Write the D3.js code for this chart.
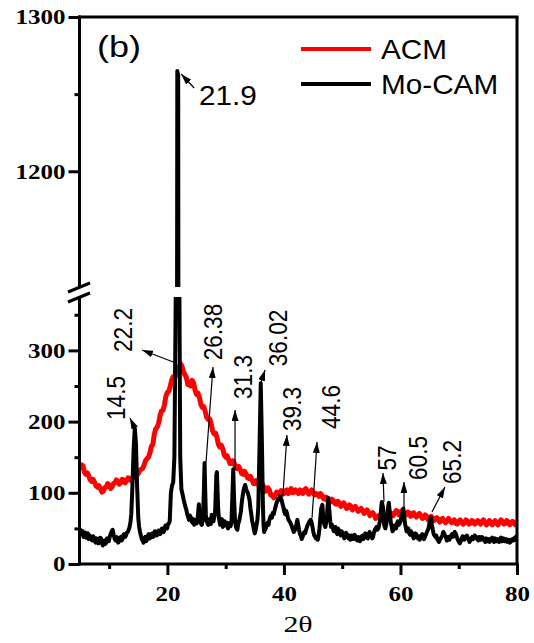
<!DOCTYPE html>
<html><head><meta charset="utf-8">
<script src="https://cdn.jsdelivr.net/npm/d3@7"></script>
<style>body{margin:0;background:#fff}svg{display:block}</style>
</head><body>
<svg id="c" width="534" height="643"></svg>
<script>
// ---------- data ----------
const seriesNames = ["ACM", "Mo-CAM"];
const seriesColors = ["#ff0000", "#000000"];
const acm = [[5,142],[5.25,136],[5.5,138],[5.75,129],[6,126],[6.25,128],[6.5,124],[6.75,118],[7,116],[7.25,119],[7.5,115],[7.75,110],[8,108],[8.25,110],[8.5,106],[8.75,101],[9,102],[9.25,107],[9.5,108],[9.75,113],[10,111],[10.25,106],[10.5,108],[10.75,113],[11,114],[11.25,118],[11.5,116],[11.75,112],[12,114],[12.25,119],[12.5,118],[12.75,114],[13,117],[13.25,121],[13.5,119],[13.75,117],[14,120],[14.25,126],[14.5,124],[14.75,124],[15,127],[15.25,131],[15.5,133],[15.75,134],[16,139],[16.25,145],[16.5,148],[16.75,150],[17,156],[17.25,165],[17.5,168],[17.75,182],[18,190],[18.25,192],[18.5,198],[18.75,209],[19,215],[19.25,216],[19.5,224],[19.75,236],[20,241],[20.25,243],[20.5,250],[20.75,259],[21,263],[21.25,261],[21.5,266],[21.75,274],[22,276],[22.25,281],[22.5,278],[22.75,270],[23,266],[23.25,262],[23.5,252],[23.75,255],[24,250],[24.25,258],[24.5,254],[24.75,244],[25,238],[25.25,240],[25.5,234],[25.75,224],[26,220],[26.25,221],[26.5,214],[26.75,206],[27,203],[27.25,204],[27.5,197],[27.75,187],[28,183],[28.25,184],[28.5,178],[28.75,168],[29,164],[29.25,167],[29.5,162],[29.75,153],[30,150],[30.25,152],[30.5,147],[30.75,141],[31,141],[31.25,145],[31.5,141],[31.75,135],[32,134],[32.25,137],[32.5,133],[32.75,127],[33,126],[33.25,130],[33.5,127],[33.75,121],[34,120],[34.25,123],[34.5,119],[34.75,113],[35,113],[35.25,117],[35.5,115],[35.75,109],[36,110],[36.25,113],[36.5,109],[36.75,102],[37,103],[37.25,107],[37.5,104],[37.75,97],[38,96],[38.25,93],[38.5,97],[38.75,101],[39,99],[39.25,100],[39.5,103],[39.75,98],[40,99],[40.25,103],[40.5,104],[40.75,99],[41,103],[41.25,106],[41.5,100],[41.75,101],[42,104],[42.25,101],[42.5,99],[42.75,104],[43,103],[43.25,99],[43.5,104],[43.75,106],[44,102],[44.25,98],[44.5,101],[44.75,104],[45,101],[45.25,97],[45.5,99],[45.75,98],[46,95],[46.25,99],[46.5,97],[46.75,92],[47,91],[47.25,94],[47.5,90],[47.75,86],[48,87],[48.25,91],[48.5,89],[48.75,85],[49,84],[49.25,88],[49.5,86],[49.75,81],[50,82],[50.25,86],[50.5,83],[50.75,78],[51,79],[51.25,83],[51.5,81],[51.75,76],[52,78],[52.25,81],[52.5,78],[52.75,74],[53,76],[53.25,78],[53.5,75],[53.75,71],[54,73],[54.25,76],[54.5,73],[54.75,68],[55,70],[55.25,72],[55.5,69],[55.75,64],[56,66],[56.25,68],[56.5,65],[56.75,62],[57,64],[57.25,68],[57.5,67],[57.75,64],[58,67],[58.25,72],[58.5,71],[58.75,68],[59,71],[59.25,75],[59.5,74],[59.75,69],[60,70],[60.25,75],[60.5,73],[60.75,68],[61,69],[61.25,73],[61.5,72],[61.75,67],[62,68],[62.25,72],[62.5,69],[62.75,66],[63,69],[63.25,71],[63.5,68],[63.75,64],[64,65],[64.25,69],[64.5,67],[64.75,62],[65,64],[65.25,67],[65.5,65],[65.75,61],[66,63],[66.25,65],[66.5,62],[66.75,59],[67,63],[67.25,64],[67.5,60],[67.75,58],[68,61],[68.25,64],[68.5,61],[68.75,58],[69,60],[69.25,62],[69.5,57],[69.75,56],[70,60],[70.25,62],[70.5,59],[70.75,56],[71,58],[71.25,62],[71.5,60],[71.75,56],[72,57],[72.25,61],[72.5,60],[72.75,56],[73,58],[73.25,61],[73.5,59],[73.75,56],[74,60],[74.25,62],[74.5,58],[74.75,55],[75,57],[75.25,61],[75.5,59],[75.75,55],[76,58],[76.25,61],[76.5,57],[76.75,55],[77,59],[77.25,62],[77.5,60],[77.75,56],[78,57],[78.25,61],[78.5,59],[78.75,55],[79,57],[79.25,60],[79.5,58],[79.75,55],[80,56]];
const mocam = [[5.0,50],[5.15,44],[5.3,42],[5.45,46],[5.6,38],[5.75,41],[5.9,44],[6.05,37],[6.2,40],[6.35,43],[6.5,35],[6.65,40],[6.8,39],[6.95,34],[7.1,33],[7.25,39],[7.4,37],[7.55,32],[7.7,30],[7.85,36],[8.0,35],[8.15,29],[8.3,31],[8.45,37],[8.6,36],[8.75,30],[8.9,26],[9.05,31],[9.2,33],[9.35,28],[9.5,30],[9.65,36],[9.8,35],[9.95,32],[10.1,38],[10.25,42],[10.4,45],[10.6,48],[10.8,40],[10.95,35],[11.1,33],[11.25,38],[11.4,36],[11.55,30],[11.7,32],[11.85,37],[12.0,38],[12.15,33],[12.3,35],[12.45,41],[12.6,42],[12.75,38],[12.9,40],[13.05,44],[13.2,45],[13.35,48],[13.5,52],[13.65,58],[13.8,70],[14.0,110],[14.2,160],[14.4,191],[14.6,170],[14.8,110],[15.0,65],[15.15,52],[15.3,45],[15.45,40],[15.6,35],[15.75,33],[15.9,30],[16.05,36],[16.2,38],[16.35,32],[16.5,34],[16.65,40],[16.8,42],[16.95,36],[17.1,37],[17.25,42],[17.4,43],[17.55,38],[17.7,40],[17.85,46],[18.0,45],[18.15,40],[18.3,41],[18.45,47],[18.6,47],[18.75,42],[18.9,44],[19.05,50],[19.2,50],[19.35,45],[19.5,48],[19.65,54],[19.8,53],[19.95,50],[20.1,56],[20.25,57],[20.4,60],[20.6,100],[20.8,110],[21.0,115],[21.2,150],[21.45,400],[21.7,1265],[21.85,1262],[22.05,400],[22.2,150],[22.4,105],[22.6,98],[22.8,90],[22.95,85],[23.1,80],[23.25,76],[23.4,70],[23.55,66],[23.7,62],[23.85,68],[24.0,66],[24.15,60],[24.3,58],[24.45,63],[24.6,55],[24.75,58],[24.9,62],[25.0,57],[25.1,58],[25.25,70],[25.4,84],[25.5,72],[25.6,60],[25.75,57],[25.9,55],[26.0,60],[26.1,65],[26.25,100],[26.38,142],[26.5,100],[26.6,70],[26.7,60],[26.85,58],[27.0,55],[27.15,63],[27.3,62],[27.45,56],[27.6,69],[27.75,64],[27.9,60],[28.05,66],[28.2,75],[28.4,125],[28.5,129],[28.7,80],[28.8,68],[28.9,62],[29.05,55],[29.2,58],[29.35,63],[29.5,52],[29.65,55],[29.8,60],[29.95,54],[30.1,55],[30.25,58],[30.4,50],[30.55,54],[30.7,57],[30.85,53],[31.0,60],[31.15,95],[31.3,133],[31.45,90],[31.6,62],[31.7,55],[31.85,50],[32.0,48],[32.15,56],[32.3,60],[32.45,66],[32.6,73],[32.75,85],[32.9,95],[33.05,103],[33.2,108],[33.35,111],[33.5,106],[33.65,102],[33.8,100],[33.95,95],[34.1,90],[34.25,78],[34.4,70],[34.55,60],[34.7,55],[34.85,48],[35.0,43],[35.15,48],[35.3,55],[35.45,62],[35.6,80],[35.85,180],[36.02,254],[36.2,180],[36.4,80],[36.5,55],[36.6,45],[36.75,48],[36.9,50],[37.05,56],[37.2,58],[37.35,55],[37.5,62],[37.65,66],[37.8,68],[37.95,65],[38.1,72],[38.25,70],[38.4,75],[38.55,80],[38.7,85],[38.85,88],[39.0,92],[39.15,90],[39.3,95],[39.45,93],[39.6,90],[39.75,84],[39.9,80],[40.05,74],[40.2,70],[40.35,75],[40.5,72],[40.65,66],[40.8,62],[40.95,60],[41.1,58],[41.25,55],[41.4,52],[41.55,48],[41.7,45],[41.85,47],[42.0,50],[42.15,56],[42.3,62],[42.45,55],[42.6,48],[42.75,42],[42.9,40],[43.05,35],[43.2,38],[43.35,42],[43.5,45],[43.65,43],[43.8,48],[43.95,52],[44.1,55],[44.25,58],[44.4,60],[44.6,62],[44.75,58],[44.9,52],[45.05,45],[45.2,40],[45.35,38],[45.5,36],[45.65,38],[45.8,34],[45.95,40],[46.1,50],[46.25,65],[46.4,78],[46.6,83],[46.8,60],[46.95,55],[47.1,52],[47.25,58],[47.4,70],[47.6,93],[47.8,75],[47.95,60],[48.1,52],[48.25,55],[48.4,50],[48.55,46],[48.7,48],[48.85,52],[49.0,45],[49.15,42],[49.3,50],[49.45,47],[49.6,43],[49.75,40],[49.9,46],[50.05,44],[50.2,40],[50.35,36],[50.5,38],[50.65,44],[50.8,42],[50.95,38],[51.1,36],[51.25,40],[51.4,34],[51.55,37],[51.7,40],[51.85,35],[52.0,37],[52.15,41],[52.3,38],[52.45,34],[52.6,33],[52.75,38],[52.9,36],[53.05,32],[53.2,34],[53.35,39],[53.5,40],[53.65,35],[53.8,38],[53.95,43],[54.1,42],[54.25,37],[54.4,36],[54.55,41],[54.7,45],[54.85,42],[55.0,40],[55.15,36],[55.3,38],[55.45,44],[55.6,48],[55.75,50],[55.9,52],[56.05,48],[56.2,50],[56.35,55],[56.5,62],[56.65,75],[56.8,87],[57.0,80],[57.2,55],[57.4,50],[57.55,55],[57.7,65],[57.85,78],[58.0,86],[58.2,70],[58.35,58],[58.5,52],[58.65,46],[58.8,48],[58.95,54],[59.1,52],[59.25,50],[59.4,57],[59.55,60],[59.7,55],[59.85,57],[60.0,60],[60.15,65],[60.3,72],[60.5,78],[60.7,62],[60.8,56],[60.9,52],[61.05,46],[61.2,48],[61.35,50],[61.5,43],[61.65,41],[61.8,46],[61.95,44],[62.1,40],[62.25,36],[62.4,38],[62.55,43],[62.7,42],[62.85,38],[63.0,36],[63.15,39],[63.3,34],[63.45,37],[63.6,40],[63.75,42],[63.9,37],[64.05,35],[64.2,38],[64.35,41],[64.5,44],[64.65,47],[64.8,50],[65.0,58],[65.2,66],[65.4,55],[65.55,48],[65.7,42],[65.85,40],[66.0,38],[66.15,40],[66.3,35],[66.45,33],[66.6,31],[66.75,34],[66.9,36],[67.05,38],[67.2,40],[67.35,45],[67.5,43],[67.65,40],[67.8,38],[67.95,33],[68.1,36],[68.25,38],[68.4,34],[68.55,37],[68.7,40],[68.85,42],[69.0,38],[69.15,41],[69.3,45],[69.45,43],[69.6,40],[69.75,36],[69.9,33],[70.05,31],[70.2,29],[70.35,32],[70.5,35],[70.65,39],[70.8,38],[70.95,34],[71.1,36],[71.25,39],[71.4,40],[71.55,37],[71.7,34],[71.85,31],[72.0,33],[72.15,36],[72.3,38],[72.45,35],[72.6,36],[72.75,40],[72.9,39],[73.05,36],[73.2,35],[73.35,33],[73.5,38],[73.65,36],[73.8,34],[73.95,38],[74.1,37],[74.25,35],[74.4,33],[74.55,31],[74.7,36],[74.85,34],[75.0,32],[75.15,35],[75.3,31],[75.45,33],[75.6,35],[75.75,37],[75.9,33],[76.05,31],[76.2,36],[76.35,34],[76.5,32],[76.65,35],[76.8,34],[76.95,31],[77.1,35],[77.25,37],[77.4,32],[77.55,34],[77.7,36],[77.85,32],[78.0,33],[78.15,35],[78.3,31],[78.45,33],[78.6,34],[78.75,30],[78.9,31],[79.05,34],[79.2,35],[79.35,33],[79.5,36],[79.65,34],[79.8,38],[80.0,40]];
const xMajorTicks = [20, 40, 60, 80];
const xMinorTicks = [10, 30, 50, 70];
const yLowMajor = [0, 100, 200, 300];
const yLowMinor = [50, 150, 250, 350];
const yHighMajor = [1200, 1300];
const yHighMinor = [1250];
const peakLabels = ["14.5","22.2","26.38","31.3","36.02","39.3","44.6","57","60.5","65.2"];
const peakAt = [[14.5,185],[22.2,277],[26.38,138],[31.3,133],[36.02,254],[39.3,95],[44.6,62],[57,87],[60.5,78],[65.2,66]];
const topPeak = {label:"21.9", at:[21.85,1265]};

// ---------- layout ----------
const L = 80, R = 517, B = 564, T = 17;
const x = d3.scaleLinear([5, 80], [L, R]);
const yLow = d3.scaleLinear([0, 375], [B, 297]);
const yHigh = d3.scaleLinear([1125, 1300], [287, T]);
const svg = d3.select("#c");
const defs = svg.append("defs");
defs.append("clipPath").attr("id","clipLow").append("rect").attr("x",L).attr("y",297).attr("width",R-L).attr("height",B-297+2);
defs.append("clipPath").attr("id","clipHigh").append("rect").attr("x",L).attr("y",T).attr("width",R-L).attr("height",287-T);
defs.append("marker").attr("id","arr").attr("markerUnits","userSpaceOnUse")
  .attr("markerWidth",11).attr("markerHeight",7).attr("refX",11).attr("refY",3.5).attr("orient","auto")
  .append("path").attr("d","M0,0L11,3.5L0,7Z").attr("fill","#000");

const lineLow = d3.line().x(d=>x(d[0])).y(d=>yLow(d[1]));
const lineHigh = d3.line().x(d=>x(d[0])).y(d=>yHigh(d[1]));

svg.append("path").datum(acm).attr("d",lineLow).attr("clip-path","url(#clipLow)")
  .attr("fill","none").attr("stroke",seriesColors[0]).attr("stroke-width",5).attr("stroke-linejoin","round");
svg.append("path").datum(mocam).attr("d",lineLow).attr("clip-path","url(#clipLow)")
  .attr("fill","none").attr("stroke",seriesColors[1]).attr("stroke-width",4).attr("stroke-linejoin","round");
svg.append("path").datum(mocam).attr("d",lineHigh).attr("clip-path","url(#clipHigh)")
  .attr("fill","none").attr("stroke",seriesColors[1]).attr("stroke-width",4).attr("stroke-linejoin","round");

// ---------- axes ----------
const serif = "'Liberation Serif','Times New Roman',serif";
const sans = "'Liberation Sans',Arial,sans-serif";
function styleLeft(g, labels){
  g.select(".domain").remove();
  g.selectAll(".tick line").attr("stroke","#000").attr("stroke-width",3);
  if(labels){
    g.selectAll(".tick text").attr("x",-14/1.25).attr("dy","0.34em").attr("transform","scale(1.25,1)")
      .style("font-family",serif).style("font-weight","bold").style("font-size","20px").attr("fill","#000");
  }
}
const axX = 79.5;
const gL1 = svg.append("g").attr("transform",`translate(${axX},0)`)
  .call(d3.axisLeft(yLow).tickValues(yLowMajor).tickSize(11).tickSizeOuter(0).tickFormat(d3.format("d")));
styleLeft(gL1, true);
const gL2 = svg.append("g").attr("transform",`translate(${axX},0)`)
  .call(d3.axisLeft(yLow).tickValues(yLowMinor).tickSize(5).tickSizeOuter(0).tickFormat(""));
styleLeft(gL2, false);
const gH1 = svg.append("g").attr("transform",`translate(${axX},0)`)
  .call(d3.axisLeft(yHigh).tickValues(yHighMajor).tickSize(11).tickSizeOuter(0).tickFormat(d3.format("d")));
styleLeft(gH1, true);
const gH2 = svg.append("g").attr("transform",`translate(${axX},0)`)
  .call(d3.axisLeft(yHigh).tickValues(yHighMinor).tickSize(5).tickSizeOuter(0).tickFormat(""));
styleLeft(gH2, false);

const gB1 = svg.append("g").attr("transform",`translate(0,${B})`)
  .call(d3.axisBottom(x).tickValues(xMajorTicks).tickSize(11).tickSizeOuter(0).tickFormat(d3.format("d")));
gB1.select(".domain").remove();
gB1.selectAll(".tick line").attr("stroke","#000").attr("stroke-width",3);
gB1.selectAll(".tick text").attr("y",37).attr("dy",0).attr("transform","scale(1.25,1)")
  .attr("x",0).style("font-family",serif).style("font-weight","bold").style("font-size","20px").attr("fill","#000");
const gB2 = svg.append("g").attr("transform",`translate(0,${B})`)
  .call(d3.axisBottom(x).tickValues(xMinorTicks).tickSize(5).tickSizeOuter(0).tickFormat(""));
gB2.select(".domain").remove();
gB2.selectAll(".tick line").attr("stroke","#000").attr("stroke-width",3);

// frame lines
const frame = svg.append("g").attr("stroke","#000").attr("stroke-width",3).attr("fill","none");
frame.append("line").attr("x1",axX).attr("x2",axX).attr("y1",T-1.5).attr("y2",287);
frame.append("line").attr("x1",axX).attr("x2",axX).attr("y1",297).attr("y2",B+1.5);
frame.append("line").attr("x1",axX-1.5).attr("x2",R+1.5).attr("y1",T).attr("y2",T);
frame.append("line").attr("x1",axX-1.5).attr("x2",R+1.5).attr("y1",B).attr("y2",B);
frame.append("line").attr("x1",R).attr("x2",R).attr("y1",T).attr("y2",B);
// axis break marks
frame.append("line").attr("x1",68).attr("y1",292).attr("x2",90).attr("y2",283);
frame.append("line").attr("x1",68).attr("y1",302).attr("x2",90).attr("y2",293);

// ---------- annotations ----------
const annLayout = [ // [fromDx,fromDy,toDx,toDy,textDx,textDy]
  [0,-3,-5.4,-14.3,-19.4,-34.3],
  [-5,-4,-38.2,-16.8,-58.2,-36.8],
  [1.4,-2.7,8.4,-98.7,8.4,-133.7],
  [1.8,0,1.8,-59.3,8.8,-92.3],
  [0,0,4.3,-13.2,16.3,-45.2],
  [3,0,7.1,-61.4,12.1,-87.4],
  [1.3,-2,6.3,-77.9,19.3,-112.9],
  [1,0,0,-29.1,3,-44.1],
  [0.6,0,0.6,-26.5,13.6,-50.5],
  [1.2,-5,14.2,-30,21.2,-55]
];
const ann = svg.append("g");
peakLabels.forEach((lab,i)=>{
  const bx = x(peakAt[i][0]), by = yLow(peakAt[i][1]);
  const o = annLayout[i];
  ann.append("line").attr("x1",bx+o[0]).attr("y1",by+o[1]).attr("x2",bx+o[2]).attr("y2",by+o[3])
    .attr("stroke","#000").attr("stroke-width",1.2).attr("marker-end","url(#arr)");
  ann.append("text").attr("transform",`translate(${bx+o[4]},${by+o[5]}) scale(1.17,1) rotate(-90)`)
    .attr("text-anchor","middle").attr("dy","0.36em").style("font-family",sans).style("font-size","22.6px")
    .attr("fill","#000").text(lab);
});
{
  const bx = x(topPeak.at[0]), by = yHigh(topPeak.at[1]);
  ann.append("line").attr("x1",bx+16).attr("y1",by+17).attr("x2",bx+3).attr("y2",by+3)
    .attr("stroke","#000").attr("stroke-width",1.2).attr("marker-end","url(#arr)");
  ann.append("text").attr("transform",`translate(${bx+20.8},${by+34}) scale(1.1,1)`)
    .style("font-family",sans).style("font-size","27px").attr("fill","#000").text(topPeak.label);
}

// panel label
svg.append("text").attr("transform","translate(97,57) scale(1.2,1)")
  .style("font-family",sans).style("font-size","30px").attr("fill","#000").text("(b)");

// legend
const leg = svg.append("g");
seriesNames.forEach((n,i)=>{
  const yy = 49 + i*35;
  leg.append("line").attr("x1",301).attr("x2",371).attr("y1",yy).attr("y2",yy)
    .attr("stroke",seriesColors[i]).attr("stroke-width",4);
  leg.append("text").attr("transform",`translate(381,${yy+9.5}) scale(1.1,1)`)
    .style("font-family",sans).style("font-size","27px").attr("fill","#000").text(n);
});

// axis title
svg.append("text").attr("transform","translate(298,632) scale(1.3,1)").attr("text-anchor","middle")
  .style("font-family",serif).style("font-size","23px").attr("fill","#000").text("2θ");
</script>
</body></html>
